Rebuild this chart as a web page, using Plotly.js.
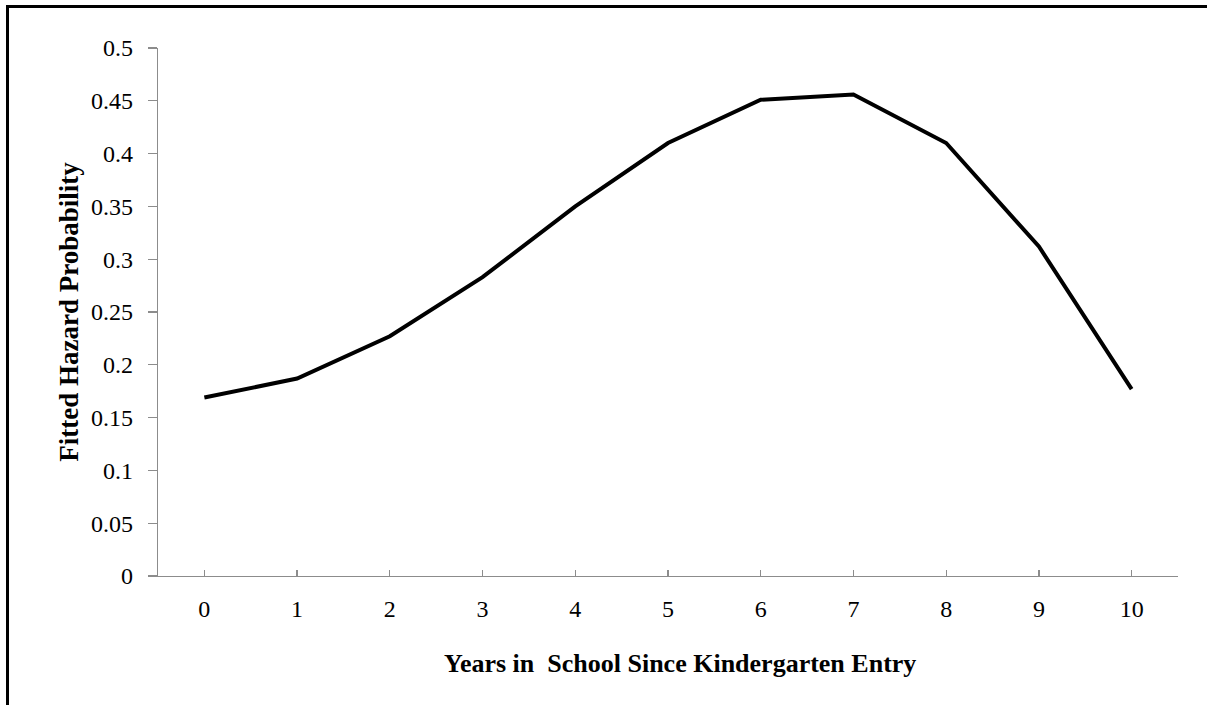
<!DOCTYPE html>
<html>
<head>
<meta charset="utf-8">
<script src="https://cdn.plot.ly/plotly-3.0.1.min.js"></script>
<style>
html, body { margin: 0; padding: 0; background: #fff; overflow: hidden; }
#wrap { position: relative; width: 1207px; height: 705px; overflow: hidden; }
#frame { position: absolute; left: 6px; top: 5px; width: 1400px; height: 900px; border: 3px solid #000; box-sizing: border-box; pointer-events: none; z-index: 2; }
#chart { position: absolute; left: 0; top: 0; width: 1207px; height: 705px; }
</style>
</head>
<body>
<div id="wrap">
<div id="chart"></div>
<div id="frame"></div>
</div>
<script>
const years = [0, 1, 2, 3, 4, 5, 6, 7, 8, 9, 10];
const hazard = [0.169, 0.187, 0.227, 0.283, 0.350, 0.410, 0.451, 0.456, 0.410, 0.312, 0.177];
const xTickVals = [0, 1, 2, 3, 4, 5, 6, 7, 8, 9, 10, 10.5];
const xTickText = ['0', '1', '2', '3', '4', '5', '6', '7', '8', '9', '10', ''];
const yTickVals = [0, 0.05, 0.1, 0.15, 0.2, 0.25, 0.3, 0.35, 0.4, 0.45, 0.5];
const yTickText = ['0', '0.05', '0.1', '0.15', '0.2', '0.25', '0.3', '0.35', '0.4', '0.45', '0.5'];
const xTitle = 'Years in  School Since Kindergarten Entry';
const yTitle = 'Fitted Hazard Probability';

const serif = '"Liberation Serif", "Times New Roman", serif';

const trace = {
  x: years,
  y: hazard,
  type: 'scatter',
  mode: 'lines',
  line: { color: '#000', width: 4 },
  hoverinfo: 'x+y'
};

const layout = {
  width: 1207,
  height: 705,
  margin: { l: 158, r: 29, t: 48, b: 129 },
  paper_bgcolor: '#fff',
  plot_bgcolor: '#fff',
  showlegend: false,
  font: { family: serif, color: '#000', size: 24 },
  xaxis: {
    range: [-0.5, 10.5],
    tickvals: xTickVals,
    ticktext: xTickText,
    ticks: 'inside',
    ticklen: 6,
    tickwidth: 1.3,
    tickcolor: '#8c8c8c',
    showline: true,
    linecolor: '#8c8c8c',
    linewidth: 1.3,
    showgrid: false,
    zeroline: false,
    ticklabelstandoff: 11,
    tickfont: { family: serif, size: 24, color: '#000' }
  },
  yaxis: {
    range: [0, 0.5],
    tickvals: yTickVals,
    ticktext: yTickText,
    ticks: 'outside',
    ticklen: 9,
    tickwidth: 1.3,
    tickcolor: '#8c8c8c',
    showline: true,
    linecolor: '#8c8c8c',
    linewidth: 1.3,
    showgrid: false,
    zeroline: false,
    ticklabelstandoff: 10,
    tickfont: { family: serif, size: 24, color: '#000' },
    title: { text: yTitle, font: { family: serif, size: 27, color: '#000', weight: 'bold' }, standoff: 4 }
  },
  annotations: [{
    text: xTitle,
    xref: 'paper', yref: 'paper',
    x: 0.512, y: -0.165,
    xanchor: 'center', yanchor: 'middle',
    showarrow: false,
    font: { family: serif, size: 26, color: '#000', weight: 'bold' }
  }]
};

Plotly.newPlot('chart', [trace], layout, { displayModeBar: false, staticPlot: true });
</script>
</body>
</html>
